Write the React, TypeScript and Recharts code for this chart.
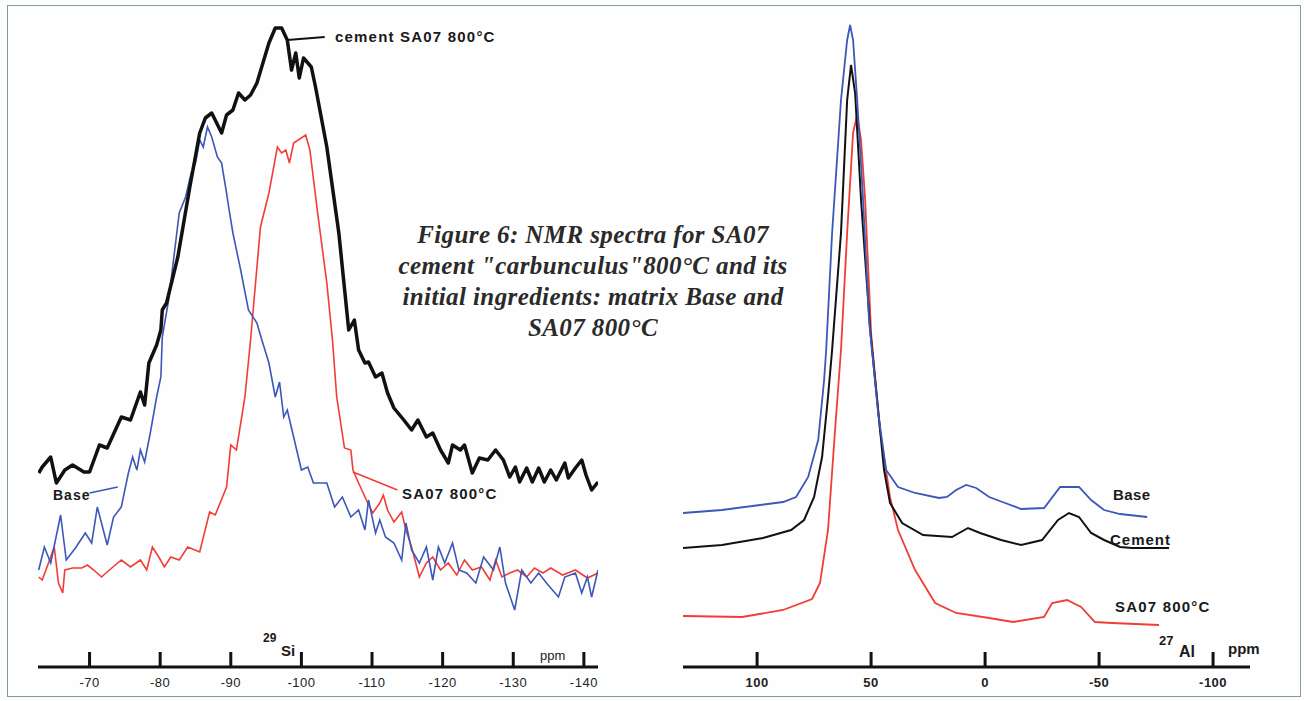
import { LineChart, Line, XAxis, YAxis, ReferenceLine } from 'recharts';

// 29Si spectra (ppm, intensity in arbitrary units)
const siCement = [
  [-62.8, 194], [-63.3, 200], [-64.5, 210], [-65.3, 184], [-66.5, 197], [-67.6, 202], [-69.2, 195], [-70.0, 195],
  [-71.4, 222], [-72.5, 219], [-74.5, 250], [-75.8, 247], [-77.2, 275], [-77.8, 262], [-78.4, 304], [-79.5, 322],
  [-80.1, 337], [-80.3, 357], [-80.9, 364], [-82.5, 410], [-84.2, 480], [-85.6, 534], [-86.4, 549], [-87.3, 554],
  [-88.7, 534], [-89.4, 552], [-90.3, 557], [-91.1, 574], [-92.0, 567], [-92.8, 572], [-93.7, 584], [-95.4, 624],
  [-96.3, 639], [-97.2, 639], [-98.0, 627], [-98.6, 597], [-99.2, 614], [-99.7, 589], [-100.3, 609], [-101.4, 600],
  [-102.0, 580], [-103.6, 520], [-105.3, 434], [-106.7, 337], [-107.5, 347], [-108.1, 317], [-109.0, 304], [-109.5, 305],
  [-110.5, 290], [-111.4, 294], [-112.2, 274], [-113.1, 259], [-114.5, 247], [-115.6, 237], [-116.5, 247], [-117.7, 230],
  [-118.6, 234], [-119.7, 217], [-120.8, 204], [-121.4, 222], [-122.5, 217], [-123.1, 222], [-124.2, 194], [-125.2, 209],
  [-126.4, 207], [-127.5, 217], [-128.6, 207], [-129.5, 190], [-130.3, 200], [-130.9, 185], [-131.9, 199], [-132.7, 185],
  [-133.6, 199], [-134.4, 185], [-135.3, 197], [-136.1, 187], [-137.3, 204], [-137.8, 189], [-138.8, 199], [-139.7, 207],
  [-140.3, 192], [-141.1, 177], [-142.0, 185],
];

const siBase = [
  [-62.8, 97], [-63.6, 120], [-64.5, 104], [-65.9, 152], [-66.7, 107], [-68.0, 119], [-69.4, 134], [-70.3, 124],
  [-71.1, 160], [-72.5, 122], [-73.4, 150], [-74.5, 160], [-75.5, 194], [-76.1, 210], [-76.7, 197], [-77.2, 217],
  [-77.8, 205], [-78.6, 234], [-79.5, 270], [-80.1, 290], [-80.3, 330], [-81.2, 367], [-82.7, 454], [-83.6, 470],
  [-84.4, 494], [-85.0, 504], [-85.6, 527], [-86.1, 520], [-86.7, 540], [-87.3, 530], [-88.1, 510], [-88.7, 504],
  [-89.4, 474], [-89.7, 460], [-90.3, 434], [-91.4, 397], [-92.5, 357], [-93.7, 344], [-94.4, 327], [-95.4, 304],
  [-96.3, 270], [-96.9, 285], [-97.5, 250], [-98.0, 257], [-98.9, 230], [-100.0, 197], [-100.9, 200], [-101.7, 184],
  [-103.6, 184], [-104.7, 160], [-105.8, 170], [-107.0, 150], [-108.1, 157], [-109.0, 137], [-109.5, 167], [-110.5, 134],
  [-111.1, 147], [-111.9, 130], [-113.1, 124], [-114.2, 107], [-114.8, 144], [-115.6, 117], [-116.7, 104], [-117.7, 120],
  [-118.6, 87], [-119.4, 120], [-120.3, 104], [-121.4, 124], [-122.3, 97], [-123.4, 94], [-124.7, 84], [-125.8, 110],
  [-127.2, 97], [-128.1, 120], [-128.9, 84], [-130.2, 57], [-131.2, 97], [-132.5, 84], [-133.6, 94], [-134.7, 84],
  [-136.4, 70], [-137.3, 90], [-138.8, 94], [-139.7, 74], [-140.5, 90], [-141.1, 70], [-142.0, 97],
];

const siSa07 = [
  [-62.8, 90], [-63.3, 87], [-64.5, 110], [-65.0, 120], [-65.6, 84], [-66.2, 74], [-66.5, 97], [-67.6, 99],
  [-68.9, 99], [-69.7, 102], [-70.6, 97], [-71.7, 90], [-72.8, 97], [-74.5, 107], [-75.8, 100], [-77.2, 107],
  [-78.1, 97], [-78.9, 120], [-79.8, 110], [-80.6, 100], [-81.5, 110], [-82.7, 107], [-83.9, 120], [-85.6, 115],
  [-87.0, 155], [-87.8, 152], [-89.4, 180], [-90.0, 222], [-90.8, 217], [-92.0, 270], [-92.8, 327], [-94.2, 440],
  [-95.4, 474], [-96.6, 520], [-97.2, 514], [-97.8, 517], [-98.3, 504], [-98.9, 524], [-100.6, 532], [-101.2, 517],
  [-102.3, 454], [-103.6, 384], [-104.4, 327], [-105.0, 270], [-106.1, 219], [-107.0, 217], [-107.3, 197], [-108.1, 184],
  [-109.2, 167], [-110.1, 154], [-111.1, 164], [-111.6, 172], [-112.2, 157], [-113.1, 145], [-114.2, 155], [-114.8, 137],
  [-115.6, 120], [-116.7, 90], [-117.7, 104], [-118.6, 110], [-119.7, 97], [-120.8, 104], [-122.0, 92], [-123.1, 107],
  [-124.2, 97], [-125.5, 100], [-126.7, 87], [-127.5, 107], [-128.4, 90], [-129.5, 94], [-130.6, 97], [-131.9, 90],
  [-133.0, 99], [-134.2, 94], [-135.3, 99], [-137.0, 92], [-138.8, 97], [-140.5, 89], [-142.0, 94],
];

// 27Al spectra
const alBase = [
  [132.5, 154], [115.4, 157], [88.6, 165], [82.9, 170], [77.6, 190], [73.2, 227], [70.6, 287], [69.7, 317],
  [67.1, 434], [63.2, 567], [60.5, 627], [59.2, 642], [57.9, 627], [56.1, 567], [53.5, 467], [50.9, 347],
  [46.9, 254], [43.4, 197], [38.2, 180], [30.7, 174], [20.2, 169], [16.7, 170], [12.7, 177], [8.3, 182],
  [3.9, 179], [-1.8, 170], [-8.8, 164], [-15.8, 158], [-25.9, 159], [-32.9, 180], [-41.2, 180], [-46.5, 167],
  [-52.2, 157], [-59.2, 153], [-71.1, 150],
];

const alCement = [
  [132.5, 119], [115.4, 122], [97.4, 129], [85.1, 137], [79.4, 147], [75.0, 170], [71.5, 210], [68.9, 270],
  [67.1, 317], [63.2, 434], [60.5, 567], [58.8, 602], [57.0, 574], [54.4, 467], [50.4, 337], [44.3, 197],
  [41.7, 164], [36.4, 144], [27.2, 132], [14.5, 130], [7.5, 139], [2.2, 134], [-7.0, 127], [-15.8, 122],
  [-25.0, 127], [-32.0, 147], [-36.8, 154], [-41.2, 150], [-46.5, 134], [-52.2, 127], [-59.2, 120], [-64.5, 119],
  [-80.7, 119],
];

const alSa07 = [
  [132.5, 51], [106.6, 50], [88.6, 57], [75.9, 68], [72.4, 84], [68.9, 137], [65.8, 237], [63.2, 317],
  [60.5, 434], [57.9, 534], [56.1, 552], [54.4, 527], [52.6, 467], [50.0, 334], [46.1, 237], [41.7, 170],
  [38.2, 137], [30.7, 97], [21.9, 64], [12.7, 54], [-1.8, 49], [-12.3, 45], [-25.9, 50], [-29.4, 64],
  [-36.0, 67], [-42.1, 60], [-48.2, 45], [-55.7, 44], [-76.3, 42],
];

const siTicks = [-70, -80, -90, -100, -110, -120, -130, -140];
const alTicks = [100, 50, 0, -50, -100];

const toPts = (arr: number[][]) => arr.map(([ppm, v]) => ({ ppm, v }));

const BLUE = '#3b57b8';
const RED = '#f23d36';
const BLACK = '#111111';
const SANS = '"Liberation Sans", Arial, sans-serif';

const makeTick = (bold: boolean) => (props: any) => {
  const { x, y, payload } = props;
  return (
    <g>
      <line x1={x} x2={x} y1={y} y2={y - 15} stroke={BLACK} strokeWidth={3} />
      <text x={x} y={y + 20} textAnchor="middle" fontFamily={SANS} fontSize={13}
        fontWeight={bold ? 700 : 400} fill="#222" letterSpacing={0.5}>
        {payload.value}
      </text>
    </g>
  );
};

function SiChart() {
  return (
    <LineChart width={640} height={701} margin={{ top: 17, right: 42, bottom: 0, left: 38 }}>
      <XAxis type="number" dataKey="ppm" domain={[-142, -62.7]} reversed ticks={siTicks} interval={0}
        allowDataOverflow height={34} tickSize={0} tickMargin={0} tickLine={false}
        axisLine={{ stroke: BLACK, strokeWidth: 3 }} tick={makeTick(false)} />
      <YAxis type="number" dataKey="v" domain={[0, 650]} hide allowDataOverflow />
      <Line data={toPts(siSa07)} dataKey="v" stroke={RED} strokeWidth={1.6} dot={false} isAnimationActive={false} />
      <Line data={toPts(siBase)} dataKey="v" stroke={BLUE} strokeWidth={1.6} dot={false} isAnimationActive={false} />
      <Line data={toPts(siCement)} dataKey="v" stroke={BLACK} strokeWidth={3.5} strokeLinejoin="round"
        dot={false} isAnimationActive={false} />
      <ReferenceLine segment={[{ x: -98.0, y: 627 }, { x: -103.3, y: 630 }]} stroke={BLACK} strokeWidth={2} />
      <ReferenceLine segment={[{ x: -70.0, y: 174 }, { x: -74.0, y: 180 }]} stroke={BLUE} strokeWidth={1.6} />
      <ReferenceLine segment={[{ x: -107.3, y: 195 }, { x: -113.6, y: 177 }]} stroke={RED} strokeWidth={1.6} />
    </LineChart>
  );
}

function AlChart() {
  return (
    <LineChart width={664} height={701} margin={{ top: 17, right: 54, bottom: 0, left: 43 }}>
      <XAxis type="number" dataKey="ppm" domain={[-116.2, 132.5]} reversed ticks={alTicks} interval={0}
        allowDataOverflow height={34} tickSize={0} tickMargin={0} tickLine={false}
        axisLine={{ stroke: BLACK, strokeWidth: 3 }} tick={makeTick(true)} />
      <YAxis type="number" dataKey="v" domain={[0, 650]} hide allowDataOverflow />
      <Line data={toPts(alSa07)} dataKey="v" stroke={RED} strokeWidth={1.8} dot={false} isAnimationActive={false} />
      <Line data={toPts(alCement)} dataKey="v" stroke={BLACK} strokeWidth={2} dot={false} isAnimationActive={false} />
      <Line data={toPts(alBase)} dataKey="v" stroke={BLUE} strokeWidth={1.8} dot={false} isAnimationActive={false} />
    </LineChart>
  );
}

const caption = [
  'Figure 6: NMR spectra for SA07',
  'cement "carbunculus"800°C and its',
  'initial ingredients: matrix Base and',
  'SA07 800°C',
];

export default function App() {
  const lbl = { fontFamily: SANS, fontWeight: 700, fill: '#1a1a1a' } as const;
  return (
    <div style={{ position: 'absolute', left: 0, top: 0, width: 1304, height: 701, background: '#fefefe', overflow: 'hidden' }}>
      <div style={{ position: 'absolute', left: 7, top: 5, width: 1292, height: 690, border: '1px solid #7f9d97' }} />
      <div style={{ position: 'absolute', left: 0, top: 0 }}><SiChart /></div>
      <div style={{ position: 'absolute', left: 640, top: 0 }}><AlChart /></div>
      <svg width={1304} height={701} style={{ position: 'absolute', left: 0, top: 0, pointerEvents: 'none' }}>
        {caption.map((t, i) => (
          <text key={i} x={593} y={243 + i * 31} textAnchor="middle" fontFamily='"Liberation Serif", "Times New Roman", serif'
            fontStyle="italic" fontWeight={700} fontSize={25} letterSpacing={0.4} fill="#2a2a2a">{t}</text>
        ))}
        <text x={335} y={42} fontSize={15} letterSpacing={1.2} {...lbl}>cement SA07 800°C</text>
        <text x={53} y={500} fontSize={14} letterSpacing={1} {...lbl}>Base</text>
        <text x={402} y={499} fontSize={15} letterSpacing={1.2} {...lbl}>SA07 800°C</text>
        <text x={263} y={642} fontSize={12} {...lbl}>29</text>
        <text x={281} y={656} fontSize={15} {...lbl}>Si</text>
        <text x={540} y={660} fontSize={13} fontFamily={SANS} fill="#222">ppm</text>
        <text x={1113} y={500} fontSize={15} letterSpacing={0.4} {...lbl}>Base</text>
        <text x={1110} y={545} fontSize={15} letterSpacing={1} {...lbl}>Cement</text>
        <text x={1115} y={612} fontSize={15} letterSpacing={1.2} {...lbl}>SA07 800°C</text>
        <text x={1159} y={645} fontSize={13} {...lbl}>27</text>
        <text x={1179} y={657} fontSize={16} {...lbl}>Al</text>
        <text x={1228} y={654} fontSize={15} {...lbl}>ppm</text>
      </svg>
    </div>
  );
}
